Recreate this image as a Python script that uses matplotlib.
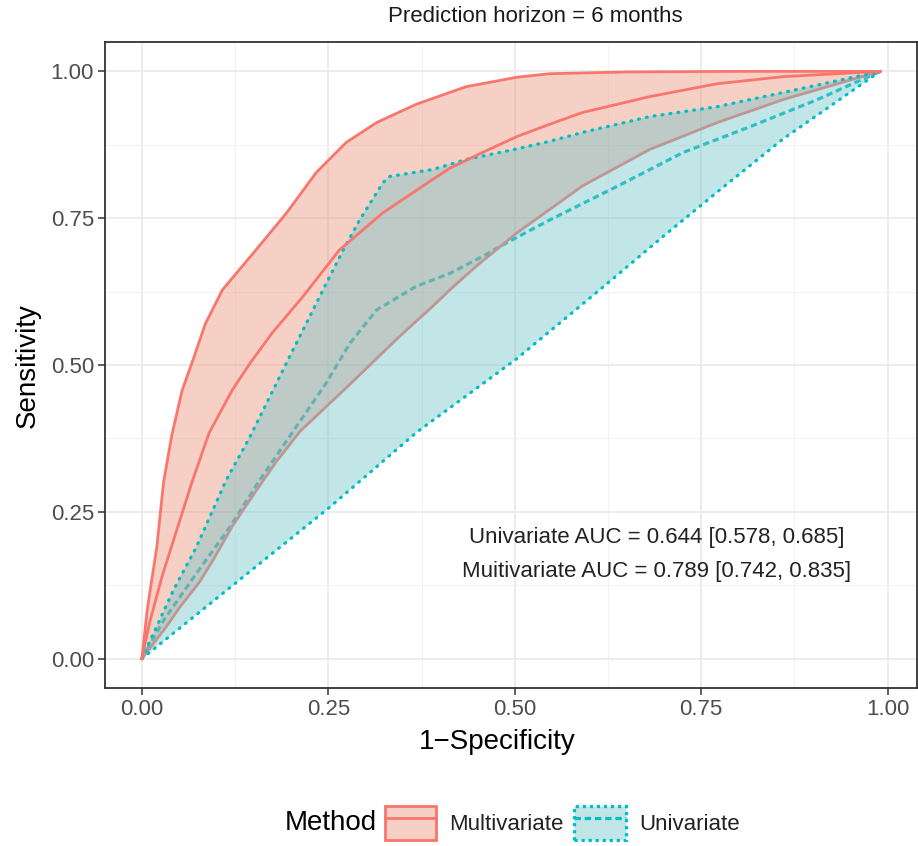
import matplotlib.pyplot as plt
import numpy as np
from matplotlib.patches import Patch
from matplotlib.lines import Line2D
from matplotlib.legend_handler import HandlerTuple
from matplotlib.colors import to_rgba

plt.rcParams['font.family'] = ['Liberation Sans', 'DejaVu Sans']

RED = '#F8766D'
TEAL = '#00BFC4'
RED_FILL = to_rgba('#EC8A70', 0.4)
TEAL_FILL = to_rgba('#6EC3C8', 0.42)

# Multivariate ROC: upper bound, estimate, lower bound (1-specificity, sensitivity)
multi_hi_x = [0, 0.007, 0.011, 0.02, 0.029, 0.04, 0.054, 0.07, 0.085, 0.108, 0.153, 0.194,
              0.234, 0.274, 0.315, 0.368, 0.435, 0.503, 0.547, 0.65, 0.8, 0.99]
multi_hi_y = [0, 0.082, 0.116, 0.19, 0.30, 0.38, 0.457, 0.514, 0.57, 0.628, 0.696, 0.759,
              0.828, 0.879, 0.913, 0.944, 0.974, 0.99, 0.996, 0.999, 1.0, 1.0]

multi_x = [0, 0.01, 0.027, 0.051, 0.067, 0.09, 0.121, 0.145, 0.175, 0.215, 0.265, 0.323,
           0.39, 0.413, 0.457, 0.503, 0.547, 0.591, 0.681, 0.772, 0.86, 0.99]
multi_y = [0, 0.06, 0.14, 0.236, 0.30, 0.384, 0.457, 0.503, 0.555, 0.615, 0.696, 0.759,
           0.816, 0.835, 0.862, 0.889, 0.91, 0.93, 0.957, 0.979, 0.991, 1.0]

multi_lo_x = [0, 0.032, 0.051, 0.077, 0.095, 0.121, 0.15, 0.18, 0.212, 0.278, 0.345, 0.39,
              0.413, 0.45, 0.503, 0.547, 0.591, 0.681, 0.772, 0.86, 0.99]
multi_lo_y = [0, 0.053, 0.088, 0.13, 0.167, 0.225, 0.28, 0.335, 0.387, 0.466, 0.548, 0.60,
              0.628, 0.67, 0.725, 0.765, 0.805, 0.867, 0.913, 0.952, 1.0]

# Univariate ROC: upper bound, estimate, lower bound
uni_hi_x = [0, 0.042, 0.073, 0.113, 0.145, 0.198, 0.252, 0.27, 0.292, 0.323, 0.332, 0.39,
            0.435, 0.503, 0.547, 0.591, 0.681, 0.772, 0.86, 0.99]
uni_hi_y = [0, 0.116, 0.19, 0.304, 0.378, 0.514, 0.651, 0.696, 0.747, 0.81, 0.821, 0.833,
            0.85, 0.868, 0.881, 0.896, 0.923, 0.94, 0.964, 1.0]

uni_x = [0, 0.029, 0.073, 0.118, 0.158, 0.198, 0.247, 0.279, 0.315, 0.368, 0.413, 0.457,
         0.489, 0.547, 0.637, 0.726, 0.816, 0.906, 0.99]
uni_y = [0, 0.065, 0.145, 0.224, 0.304, 0.378, 0.469, 0.537, 0.594, 0.634, 0.656, 0.685,
         0.708, 0.747, 0.804, 0.862, 0.906, 0.952, 1.0]

uni_lo_x = [0, 0.162, 0.252, 0.368, 0.502, 0.614, 0.70, 0.772, 0.86, 0.99]
uni_lo_y = [0, 0.166, 0.258, 0.385, 0.51, 0.628, 0.72, 0.795, 0.885, 1.0]

title = 'Prediction horizon = 6 months'
auc_lines = ['Univariate AUC = 0.644 [0.578, 0.685]',
             'Muitivariate AUC = 0.789 [0.742, 0.835]']
ticks = [0, 0.25, 0.5, 0.75, 1.0]
tick_labels = ['0.00', '0.25', '0.50', '0.75', '1.00']

fig = plt.figure(figsize=(9.18, 8.46), dpi=100)
ax = fig.add_axes([105 / 918, 1 - 688 / 846, 812 / 918, 646 / 846])

lw = 2.0
tlw = 2.3
dot = dict(dashes=(0.3, 2.2), dash_capstyle='round')
dash = dict(dashes=(2.0, 1.2), dash_capstyle='butt')

# teal estimate sits under the red band
ax.plot(uni_x, uni_y, color=TEAL, lw=tlw, zorder=2, **dash)
ax.fill(np.r_[multi_hi_x, multi_lo_x[::-1]], np.r_[multi_hi_y, multi_lo_y[::-1]],
        facecolor=RED_FILL, edgecolor='none', zorder=3)
ax.plot(multi_lo_x, multi_lo_y, color=RED, lw=lw, zorder=4)
ax.fill(np.r_[uni_hi_x, uni_lo_x[::-1]], np.r_[uni_hi_y, uni_lo_y[::-1]],
        facecolor=TEAL_FILL, edgecolor='none', zorder=5)
ax.plot(uni_hi_x, uni_hi_y, color=TEAL, lw=tlw, zorder=6, **dot)
ax.plot(uni_lo_x, uni_lo_y, color=TEAL, lw=tlw, zorder=6, **dot)
ax.plot(multi_hi_x, multi_hi_y, color=RED, lw=lw, zorder=7)
ax.plot(multi_x, multi_y, color=RED, lw=lw, zorder=7)

ax.set_xlim(-0.0495, 1.0395)
ax.set_ylim(-0.05, 1.05)
ax.set_xticks(ticks)
ax.set_xticklabels(tick_labels)
ax.set_yticks(ticks)
ax.set_yticklabels(tick_labels)
ax.set_xticks(np.arange(0.125, 1.0, 0.25), minor=True)
ax.set_yticks(np.arange(0.125, 1.0, 0.25), minor=True)
ax.grid(which='major', color='#EBEBEB', lw=1.3, zorder=0)
ax.grid(which='minor', color='#F2F2F2', lw=0.8, zorder=0)
ax.set_axisbelow(True)
ax.tick_params(which='major', length=5, width=1.1, color='#333333', pad=3,
               labelsize=16, labelcolor='#4D4D4D')
ax.tick_params(which='minor', length=0)
for s in ax.spines.values():
    s.set_color('#333333')
    s.set_linewidth(1.3)

ax.text(0.69, 0.206, auc_lines[0], ha='center', va='center', fontsize=16, color='#222222')
ax.text(0.69, 0.148, auc_lines[1], ha='center', va='center', fontsize=16, color='#222222')

fig.text(535 / 918, 1 - 17 / 846, title, ha='center', va='center', fontsize=16, color='#1A1A1A')
fig.text(497 / 918, 1 - 742 / 846, '1\u2212Specificity', ha='center', va='center', fontsize=20)
fig.text(28 / 918, 1 - 366 / 846, 'Sensitivity', ha='center', va='center', fontsize=20,
         rotation=90)

# legend
handles = [
    (Patch(facecolor=RED_FILL, edgecolor=RED, lw=lw),
     Line2D([], [], color=RED, lw=lw)),
    (Patch(facecolor=TEAL_FILL, edgecolor=TEAL, lw=tlw, ls=(0, (1.0, 1.2))),
     Line2D([], [], color=TEAL, lw=tlw, **dash)),
]
fig.legend(handles, ['Multivariate', 'Univariate'], ncol=2, frameon=False,
           loc='center', bbox_to_anchor=(562 / 918, 1 - 823 / 846),
           handler_map={tuple: HandlerTuple(ndivide=1)},
           fontsize=16, handlelength=2.3, handleheight=2.0, handletextpad=0.6,
           columnspacing=0.5, labelcolor='#222222')
fig.text(285 / 918, 1 - 823 / 846, 'Method', ha='left', va='center', fontsize=20)

fig.savefig('out.png', dpi=100)
